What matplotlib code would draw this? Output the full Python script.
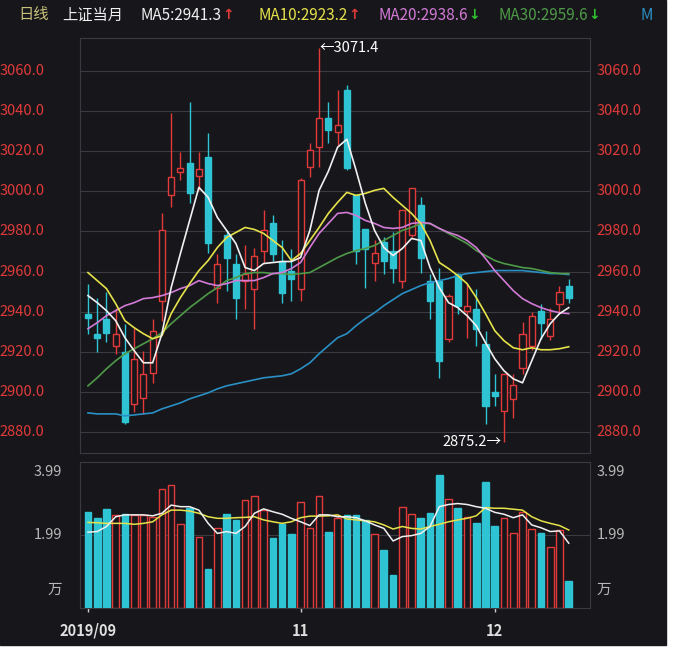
import numpy as np
import matplotlib
matplotlib.use("Agg")
import matplotlib.pyplot as plt
from matplotlib.patches import Rectangle

plt.rcParams['font.family'] = ['Noto Sans CJK SC', 'DejaVu Sans']

# daily candles: open, high, low, close
opens = [2939, 2929, 2936.5, 2923, 2920, 2894, 2897, 2909.5, 2945.5, 2998, 3009.5, 3014, 3007.5, 3017,
         2952, 2978, 2964, 2955.5, 2951.5, 2970.5, 2984, 2965.5, 2960.5, 2951.5, 3012, 3022, 3036.5, 3029.5,
         3050.5, 2998, 2981, 2964.5, 2974.5, 2970.5, 2955.5, 2978, 2993, 2955.5, 2955.5, 2926.5, 2959, 2940.5,
         2941.5, 2924, 2900, 2890.5, 2896.5, 2912, 2923, 2940.5, 2928, 2944, 2953]
highs = [2954, 2947, 2950, 2942, 2934, 2932, 2920.5, 2936.5, 2989, 3039, 3019.5, 3044.5, 3019.5, 3029,
         2969, 2980.5, 2969, 2973, 2972, 2990.5, 2988, 2975.5, 2971.5, 3006.5, 3024, 3071.4, 3044.5, 3050.5,
         3053, 2998, 2981, 2975.5, 2977, 2979.5, 2990.5, 3001.5, 2997, 2959, 2962, 2949, 2959.5, 2954,
         2951.5, 2930.5, 2909, 2909, 2909, 2935, 2940, 2944, 2942, 2953, 2956.5]
lows = [2929, 2920, 2925, 2919, 2884, 2890, 2889, 2904.5, 2935.5, 2992, 3005.5, 2994, 3000.5, 2969.5,
        2944.5, 2950.5, 2936.5, 2941.5, 2931.5, 2964.5, 2965.5, 2944.5, 2945.5, 2945.5, 3007, 3012, 3024, 3023,
        3010.5, 2964, 2952, 2955.5, 2959, 2954.5, 2952, 2977, 2959.5, 2936.5, 2907, 2925, 2939, 2927,
        2923, 2884, 2893, 2875.2, 2887, 2909, 2921, 2926.5, 2926, 2939, 2944.5]
closes = [2937, 2927, 2929.5, 2929, 2885, 2916.5, 2909, 2930.5, 2980.5, 3007, 3011.5, 2999, 3011, 2974,
          2964, 2967, 2947, 2959, 2968, 2980.5, 2969, 2949.5, 2956.5, 3005.5, 3020.5, 3036.5, 3030.5, 3033,
          3011.5, 2970.5, 2971.5, 2969.5, 2965.5, 2962, 2990.5, 3001.5, 2967, 2945.5, 2915.5, 2948, 2943, 2943,
          2931.5, 2893, 2898, 2909, 2903.5, 2929, 2938, 2934.5, 2936.5, 2950, 2947]

ma5 = [2948, 2944.5, 2940.5, 2935.5, 2927, 2920.5, 2914.5, 2914.5, 2929, 2952, 2969, 2985.5, 3002, 2997,
       2987, 2980.5, 2974, 2962, 2960.5, 2964, 2964.5, 2965, 2965, 2967, 2980.5, 3000.5, 3010, 3022,
       3026, 3010.5, 2994, 2980.5, 2972, 2968, 2971.5, 2976.5, 2975.5, 2962, 2952, 2944.5, 2942, 2938,
       2933, 2924.5, 2916.5, 2910.5, 2906.5, 2904.5, 2915.5, 2926.5, 2934, 2939, 2942]
ma10 = [2959.5, 2955.5, 2951.5, 2944, 2935.5, 2932, 2929, 2926.5, 2928, 2939, 2947, 2954, 2960.5, 2965.5,
        2972, 2977, 2979.5, 2982, 2981, 2979, 2975.5, 2972, 2965.5, 2969, 2975.5, 2982, 2989, 2994.5,
        2999.5, 2998, 2999, 3000.5, 3001.5, 2997, 2993, 2989, 2984, 2975.5, 2964.5, 2961.5, 2958, 2954,
        2947, 2939, 2930.5, 2925.5, 2922, 2921, 2922, 2921, 2921, 2921.5, 2922.5]
ma20 = [2931.5, 2934.5, 2938, 2940.5, 2943, 2944.5, 2946.5, 2947, 2948, 2949.5, 2951.5, 2953, 2955.5, 2954,
        2953, 2954, 2955.5, 2955.5, 2955.5, 2957, 2959, 2959.5, 2961.5, 2964.5, 2972, 2979, 2984, 2989,
        2989.5, 2988, 2985.5, 2984, 2982, 2981.5, 2982, 2984, 2984.5, 2984, 2981.5, 2979.5, 2978, 2975.5,
        2972, 2966.5, 2960.5, 2955.5, 2950.5, 2946.5, 2944, 2942, 2940.5, 2939.5, 2939]
ma30 = [2903, 2907, 2911.5, 2915.5, 2919, 2921.5, 2924, 2926.5, 2929.5, 2934, 2938, 2942, 2945.5, 2949,
        2952, 2955.5, 2957, 2959, 2959.5, 2959.5, 2959, 2959, 2958.5, 2959, 2959.5, 2962, 2964.5, 2967,
        2969, 2970.5, 2971.5, 2973, 2975.5, 2978, 2980.5, 2982, 2984, 2984, 2981.5, 2979, 2976.5, 2974,
        2970.5, 2968, 2965.5, 2964, 2963, 2962, 2961.5, 2960.5, 2959.5, 2959, 2959]
ma60 = [2889.5, 2889, 2889, 2889, 2888, 2888.5, 2889, 2889.5, 2891.5, 2893, 2894.5, 2896.5, 2898, 2899.5,
        2901.5, 2903, 2904, 2905, 2906, 2907, 2907.5, 2908, 2909, 2911.5, 2914.5, 2919, 2923, 2927,
        2929, 2933, 2936.5, 2939.5, 2943, 2946, 2949, 2951, 2953, 2954.5, 2955.5, 2956.5, 2958, 2959,
        2959.5, 2960, 2960.5, 2960.5, 2960.5, 2960.5, 2960, 2959.5, 2959, 2959, 2958.5]

volume = [2.71, 2.54, 2.81, 2.63, 2.66, 2.63, 2.63, 2.57, 3.44, 3.58, 2.33, 2.84, 1.92, 0.91,
          2.20, 2.67, 2.47, 3.10, 3.24, 2.78, 1.89, 2.33, 2.01, 3.05, 2.20, 3.24, 2.08, 2.52,
          2.63, 2.63, 2.47, 2.01, 1.52, 0.72, 2.89, 2.65, 2.52, 2.68, 3.89, 3.15, 2.86, 2.57,
          2.36, 3.68, 2.27, 2.52, 2.04, 2.73, 2.18, 2.04, 1.62, 2.15, 0.54]
vol_ma5 = [2.08, 2.10, 2.26, 2.57, 2.63, 2.63, 2.63, 2.60, 2.68, 2.94, 2.89, 2.89, 2.78, 2.36,
           2.04, 2.10, 2.04, 2.26, 2.68, 2.82, 2.73, 2.65, 2.52, 2.41, 2.29, 2.63, 2.63, 2.57,
           2.57, 2.54, 2.44, 2.31, 2.20, 1.80, 1.94, 1.97, 2.04, 2.26, 2.89, 2.96, 2.99, 2.96,
           2.89, 2.84, 2.71, 2.65, 2.54, 2.63, 2.31, 2.22, 2.10, 2.12, 1.73]
vol_ma10 = [2.39, 2.38, 2.36, 2.36, 2.36, 2.33, 2.36, 2.41, 2.63, 2.78, 2.78, 2.75, 2.68, 2.57,
            2.52, 2.52, 2.54, 2.55, 2.57, 2.47, 2.41, 2.36, 2.41, 2.54, 2.59, 2.59, 2.60, 2.63,
            2.50, 2.47, 2.44, 2.41, 2.31, 2.18, 2.26, 2.20, 2.18, 2.26, 2.33, 2.41, 2.47, 2.52,
            2.60, 2.86, 2.84, 2.84, 2.81, 2.78, 2.57, 2.44, 2.36, 2.29, 2.15]

date_ticks = {0: "2019/09", 23: "11", 44: "12"}
price_ticks = [2880, 2900, 2920, 2940, 2960, 2980, 3000, 3020, 3040, 3060]

BG = "#17171b"
RED = "#e23a3a"
CYAN = "#2ec4d4"
GRID = "#3a3a40"
W, H = 676, 652

fig = plt.figure(figsize=(W / 100, H / 100), dpi=100, facecolor="white")
bg = fig.add_axes([0, 0, 1, 1])
bg.set_axis_off()
bg.add_patch(Rectangle((0, 0.01), 0.985, 0.99, transform=bg.transAxes, color=BG))


def box(l, t, r, b):
    return [l / W, 1 - b / H, (r - l) / W, (b - t) / H]


ax = fig.add_axes(box(80, 38, 590, 453))
vax = fig.add_axes(box(80, 462, 590, 608))
n = len(opens)
x = np.arange(n)
xlim = (-0.86, 54.3)

for a in (ax, vax):
    a.set_facecolor(BG)
    a.set_xlim(*xlim)
    for s in a.spines.values():
        s.set_color(GRID)
    a.tick_params(left=False, right=False, bottom=False, labelleft=False, labelbottom=False)

# candles
bw = 0.66
for i in range(n):
    o, h, l, c = opens[i], highs[i], lows[i], closes[i]
    up = c >= o
    col = RED if up else CYAN
    lo, hi = min(o, c), max(o, c)
    ax.vlines(i, l, lo, color=col, lw=1, zorder=3)
    ax.vlines(i, hi, h, color=col, lw=1, zorder=3)
    ax.add_patch(Rectangle((i - bw / 2, lo), bw, max(hi - lo, 0.6), facecolor=BG if up else col,
                           edgecolor=col, lw=1, zorder=4))

for vals, col in [(ma60, "#2a8fc4"), (ma30, "#4f9a48"), (ma20, "#d27ad6"), (ma10, "#e6e24a"), (ma5, "#f0f0f0")]:
    ax.plot(x, vals, color=col, lw=1.2, zorder=5)

ax.set_ylim(2869.5, 3076.5)
ax.set_yticks(price_ticks)
ax.grid(axis="y", color=GRID, lw=0.8)
ax.set_axisbelow(True)
for p in price_ticks:
    ax.text(-0.07, p, f"{p:.1f}", color=RED, fontsize=10.5, ha="right", va="center",
            transform=ax.get_yaxis_transform())
    ax.text(1.013, p, f"{p:.1f}", color=RED, fontsize=10.5, ha="left", va="center",
            transform=ax.get_yaxis_transform())

imax = int(np.argmax(highs))
imin = int(np.argmin(lows))
ax.text(imax, highs[imax], f"←{highs[imax]:.1f}", color="white", fontsize=10.5, ha="left", va="center")
ax.text(imin - 0.3, lows[imin], f"{lows[imin]:.1f}→", color="white", fontsize=10.5, ha="right", va="center")

# volume
vbot = -0.33
for i in range(n):
    up = closes[i] >= opens[i]
    col = RED if up else CYAN
    vax.add_patch(Rectangle((i - 0.36, vbot), 0.72, volume[i] - vbot, facecolor=BG if up else col,
                            edgecolor=col, lw=1, zorder=3))
vax.plot(x, vol_ma10, color="#e6e24a", lw=1.1, zorder=5)
vax.plot(x, vol_ma5, color="#f0f0f0", lw=1.1, zorder=5)
vax.set_ylim(vbot, 4.31)
vax.axhline(1.99, color=GRID, lw=0.8, zorder=1)
for val, lab in [(3.99, "3.99"), (1.99, "1.99"), (0.25, "万")]:
    vax.text(-0.035, val, lab, color="#b8b8b8", fontsize=10.5, ha="right", va="center",
             transform=vax.get_yaxis_transform())
    vax.text(1.013, val, lab, color="#b8b8b8", fontsize=10.5, ha="left", va="center",
             transform=vax.get_yaxis_transform())
for i, lab in date_ticks.items():
    vax.vlines(i, vbot - 0.12, vbot, color="#cccccc", lw=1, clip_on=False)
    vax.text(i, -0.1, lab, color="#e0e0e0", fontsize=10.5, fontweight="bold", ha="center", va="top",
             transform=vax.get_xaxis_transform())

# header: labels, trend arrows right after the MA values
header = [(18, "日线", "#c9c27a", None), (62, "上证当月", "#f0f0f0", None),
          (140, "MA5:2941.3", "#f0f0f0", ("↑", RED)),
          (258, "MA10:2923.2", "#e6e24a", ("↑", RED)),
          (378, "MA20:2938.6", "#d27ad6", ("↓", "#30c030")),
          (498, "MA30:2959.6", "#4f9a48", ("↓", "#30c030")),
          (640, "M", "#2a8fc4", None)]
renderer = fig.canvas.get_renderer()
for px, t, col, arrow in header:
    txt = fig.text(px / W, 1 - 15 / H, t, color=col, fontsize=11, ha="left", va="center")
    if arrow:
        ext = txt.get_window_extent(renderer)
        fig.text((ext.x1 + 1) / W, 1 - 15 / H, arrow[0], color=arrow[1], fontsize=10,
                 fontweight="bold", ha="left", va="center", family="DejaVu Sans")

fig.savefig("out.png", dpi=100, facecolor=fig.get_facecolor())
